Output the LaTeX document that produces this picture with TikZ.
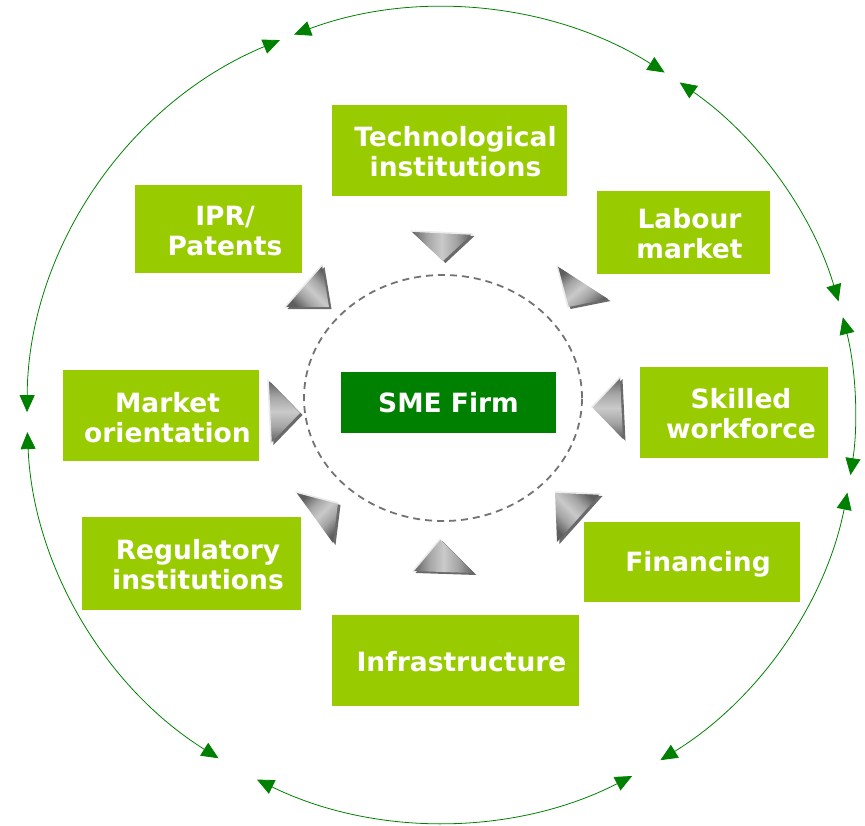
\documentclass[tikz,border=0pt]{standalone}
\usepackage{fontspec}
\setmainfont{DejaVu Sans}
\usetikzlibrary{arrows.meta,calc}

\definecolor{leaf}{HTML}{99CC00}
\definecolor{forest}{HTML}{008000}
\definecolor{ringgray}{HTML}{737373}
\definecolor{bevdark}{HTML}{5E5E5E}
\definecolor{bevsoft}{HTML}{A4A4A4}
\definecolor{bevmid}{HTML}{CACACA}
\definecolor{bevshadow}{HTML}{6A6A6A}

% metallic sheen across a pointer
\pgfdeclarehorizontalshading{bevelsheen}{100bp}{%
  color(0bp)=(bevdark); color(25bp)=(bevdark); color(38bp)=(bevsoft);
  color(50bp)=(bevmid); color(62bp)=(bevsoft); color(75bp)=(bevdark);
  color(100bp)=(bevdark)}

\tikzset{
  gbox/.style={fill=leaf, draw=none, inner sep=0pt},
  firmbox/.style={fill=forest, draw=none, inner sep=0pt},
  glabel/.style={text=white, font=\bfseries\fontsize{26.5}{30.5}\selectfont,
                 align=center, inner sep=0pt},
  cyclearc/.style={draw=forest, line width=0.8pt,
                   {Triangle[length=17pt,width=15pt]}-{Triangle[length=17pt,width=15pt]}},
  ring/.style={draw=ringgray, line width=1.8pt, dash pattern=on 7pt off 5pt},
  trishadow/.style={fill=bevshadow},
  triface/.style={shading=bevelsheen},
  triedge/.style={draw=gray!15, line width=1.6pt, line cap=round},
}

% bevelled pointer: three corners (first two give the lit edge) and a shading angle
\newcommand\bevelpointer[4]{%
  \fill[trishadow] ([shift={(2.5,2)}]#1) -- ([shift={(2.5,2)}]#2) -- ([shift={(2.5,2)}]#3) -- cycle;
  \shade[triface, shading angle=#4] (#1) -- (#2) -- (#3) -- cycle;
  \draw[triedge] (#1) -- (#2);
}

\begin{document}
\begin{tikzpicture}[x=1pt, y=-1pt]
  \useasboundingbox (0,0) rectangle (865,825);

  % outer cycle of double-headed arcs
  \coordinate (O) at (441,415);
  \foreach \a/\b in {57.3/110.8, 112.9/179.6, 182.4/237.5, 243.6/297.5,
                     302/349, 351.5/373.9, 16.2/54.8}
    \draw[cyclearc] ($(O)+(\a:414pt and 407pt)$)
      arc[start angle=\a, end angle=\b, x radius=414pt, y radius=407pt];

  % dashed ring round the firm
  \coordinate (R) at (443,398);
  \draw[ring] (R) ellipse[x radius=139pt, y radius=123pt];

  % surrounding factors
  \node[gbox, minimum width=235pt, minimum height=91pt] (tech)  at (449.5,150.5) {};
  \node[gbox, minimum width=173pt, minimum height=83pt] (labour) at (683.5,232.5) {};
  \node[gbox, minimum width=188pt, minimum height=91pt] (skill) at (734,412.5) {};
  \node[gbox, minimum width=216pt, minimum height=80pt] (fin)   at (692,562) {};
  \node[gbox, minimum width=247pt, minimum height=91pt] (infra) at (455.5,660.5) {};
  \node[gbox, minimum width=219pt, minimum height=93pt] (reg)   at (191.5,563.5) {};
  \node[gbox, minimum width=196pt, minimum height=91pt] (mkt)   at (161,415.5) {};
  \node[gbox, minimum width=167pt, minimum height=88pt] (ipr)   at (218.5,229) {};
  \node[firmbox, minimum width=215pt, minimum height=61pt] (sme) at (448.5,402.5) {};

  \node[glabel] (tech-t)   at ([xshift=6pt,yshift=-1pt]tech.center)     {Technological\\institutions};
  \node[glabel] (labour-t) at ([xshift=6pt,yshift=-1pt]labour.center)   {Labour\\market};
  \node[glabel] (skill-t)  at ([xshift=7pt,yshift=-1pt]skill.center)    {Skilled\\workforce};
  \node[glabel] (fin-t)    at ([xshift=6pt,yshift=-2pt]fin.center)      {Financing};
  \node[glabel] (infra-t)  at ([xshift=6pt,yshift=-1pt]infra.center)    {Infrastructure};
  \node[glabel] (reg-t)    at ([xshift=6.5pt,yshift=-1pt]reg.center)    {Regulatory\\institutions};
  \node[glabel] (mkt-t)    at ([xshift=6.5pt,yshift=-2pt]mkt.center)    {Market\\orientation};
  \node[glabel] (ipr-t)    at ([xshift=6.5pt,yshift=-2pt]ipr.center)    {IPR/\\Patents};
  \node[glabel] (sme-t)    at (sme.center)                              {SME Firm};

  % pointers aimed at the firm
  \bevelpointer{411,231}{472,234}{443,261}{0}
  \bevelpointer{557,266}{568,307}{608,299}{-50}
  \bevelpointer{620,377}{592,407}{623,439}{90}
  \bevelpointer{600,494}{555,492}{557,542}{45}
  \bevelpointer{440,539}{413,571}{474,573}{0}
  \bevelpointer{296,492}{338,503}{333,543}{-45}
  \bevelpointer{268,380}{271,443}{300,413}{90}
  \bevelpointer{322,265}{285,307}{329,307}{45}
\end{tikzpicture}
\end{document}
